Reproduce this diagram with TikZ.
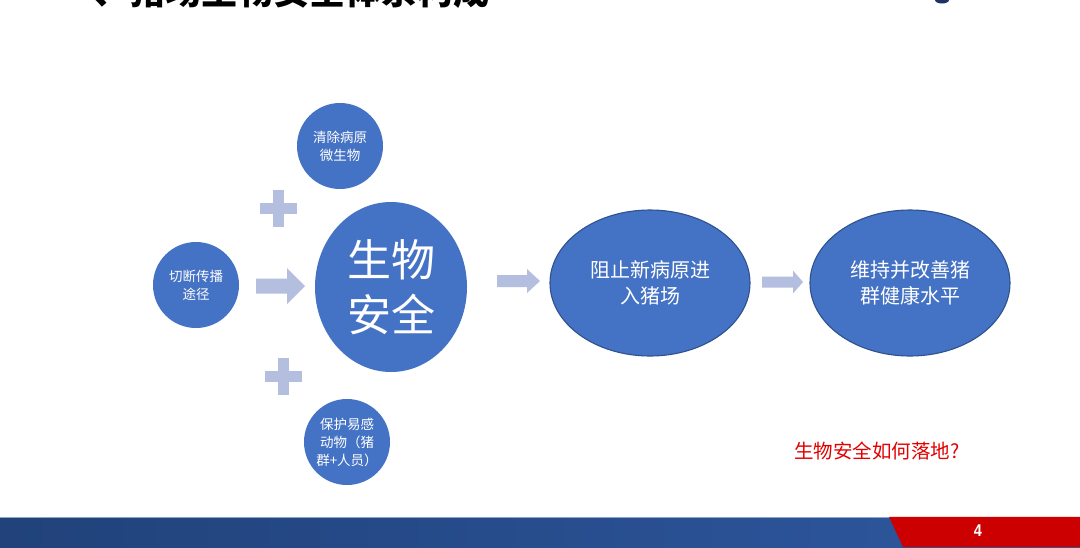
\documentclass[tikz,border=0pt]{standalone}
\usepackage{fontspec}
\setmainfont{Liberation Sans}
\newfontfamily\cjk{Noto Sans CJK SC}
\usetikzlibrary{shapes.geometric}
\definecolor{offblue}{RGB}{68,114,196}
\definecolor{edgeblue}{RGB}{47,82,143}
\definecolor{lav}{RGB}{180,190,222}
\definecolor{bandL}{RGB}{33,66,122}
\definecolor{bandR}{RGB}{46,88,160}
\definecolor{bandline}{RGB}{140,165,205}
\definecolor{redband}{RGB}{204,0,0}
\definecolor{redtxt}{RGB}{226,0,0}
\definecolor{navy}{RGB}{30,50,100}
\newcommand\blkarr[6]{% tail x, tip x, mid y, head start x, body half, head half
  \fill[lav] (#1,#3-#5) -- (#4,#3-#5) -- (#4,#3-#6) -- (#2,#3) -- (#4,#3+#6) -- (#4,#3+#5) -- (#1,#3+#5) -- cycle;}
\newcommand\plussign[2]{%
  \fill[lav] (#1-18.5,#2-5.5) rectangle (#1+18.5,#2+5.5);
  \fill[lav] (#1-5.5,#2-18.5) rectangle (#1+5.5,#2+18.5);}
\tikzset{
  smallcirc/.style={circle, fill=offblue, minimum size=86pt, inner sep=0pt, text=white, align=center,
    font=\cjk\fontsize{13.5}{18}\selectfont},
  bigcirc/.style={ellipse, fill=offblue, minimum width=152pt, minimum height=170pt, inner sep=0pt, text=white, align=center,
    font=\cjk\fontsize{44}{55}\selectfont},
  goal/.style={ellipse, fill=offblue, draw=edgeblue, line width=1.1pt, minimum width=200pt, minimum height=146pt,
    inner sep=0pt, text=white, align=center, font=\cjk\fontsize{20}{25.5}\selectfont},
}
\begin{document}
\begin{tikzpicture}[x=1pt,y=-1pt]
\useasboundingbox (0,0) rectangle (1080,547);
\begin{scope}
\clip (0,0) rectangle (1080,547);
\fill[white] (0,0) rectangle (1080,547);
% cut-off title
\node[anchor=base west, inner sep=0pt, font=\cjk\bfseries\fontsize{36}{36}\selectfont] (title) at (57,4) {一、猪场生物安全体系构成};
\fill[navy] (942,0) ellipse (7 and 3.5);
% nodes
\node[smallcirc] (clean) at (340,146) {清除病原\\微生物};
\node[smallcirc] (cut) at (196,285) {切断传播\\途径};
\node[smallcirc] (protect) at (347,442) {保护易感\\动物（猪\\群+人员）};
\node[bigcirc] (bio) at (391,287) {生物\\安全};
\node[goal] (stop) at (650,283) {阻止新病原进\\入猪场};
\node[goal] (keep) at (910,283) {维持并改善猪\\群健康水平};
% plus signs
\plussign{278}{208}
\plussign{283}{376}
% block arrows
\blkarr{256}{305}{286}{287}{7.5}{18}
\blkarr{497}{540}{281}{527}{6}{12}
\blkarr{762}{803}{282}{793}{5.5}{11.5}
% red question
\node[text=redtxt, font=\cjk\fontsize{19.5}{21}\selectfont, inner sep=0pt] (q) at (877,451) {生物安全如何落地?};
% bottom band
\shade[left color=bandL, right color=bandR] (0,517) rectangle (1080,547);
\draw[bandline, line width=1.5pt] (0,517.5) -- (1080,517.5);
\fill[redband] (889,516.8) -- (1080,516.8) -- (1080,547) -- (903,547) -- cycle;
\node[text=white, font=\bfseries\fontsize{17}{17}\selectfont, inner sep=0pt, xscale=0.85] (pg) at (978,531) {4};
\end{scope}
\end{tikzpicture}
\end{document}
